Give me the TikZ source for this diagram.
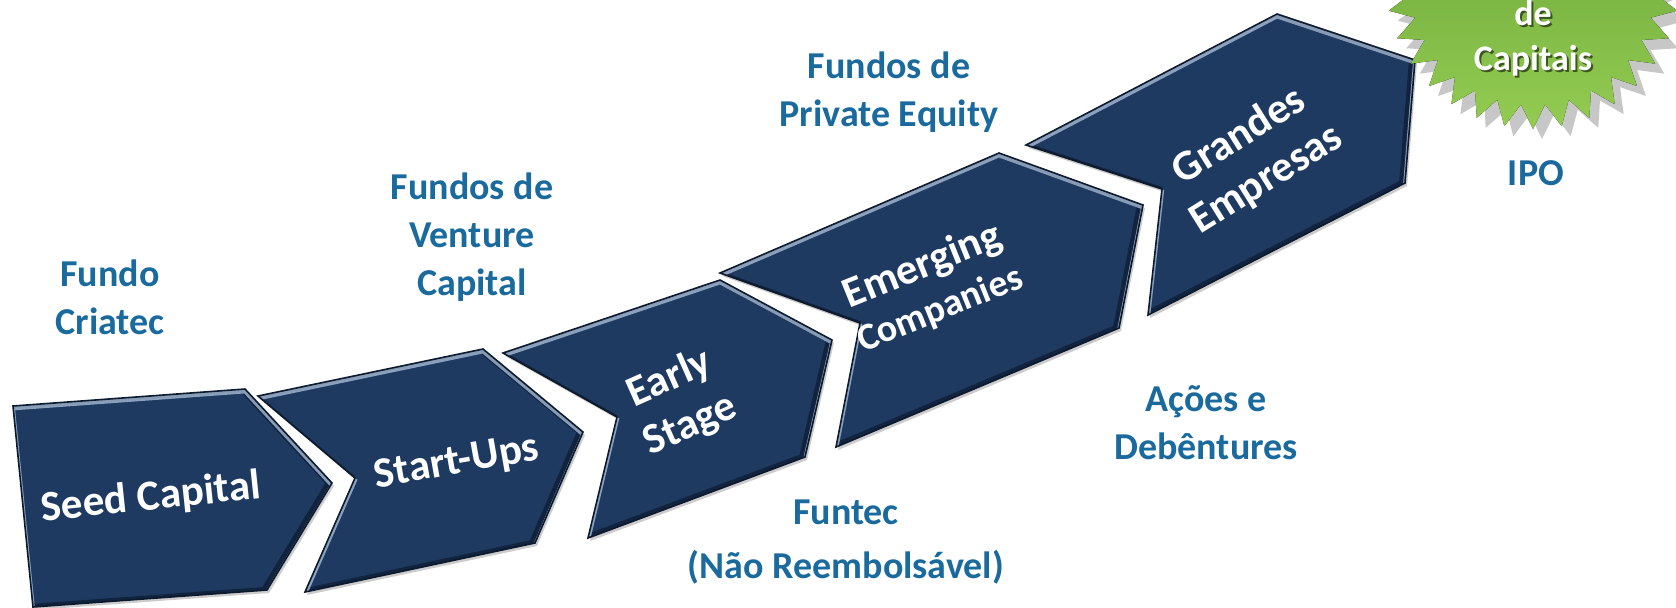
\documentclass[tikz,border=0pt]{standalone}
\usepackage{fontspec}
\setmainfont{Carlito}
\usepackage{xcolor}
\usepackage{tikz}
\usetikzlibrary{shadows}

\definecolor{stagenavy}{RGB}{31,58,96}
\definecolor{stageedge}{RGB}{12,26,46}
\definecolor{stagelight}{RGB}{176,196,222}
\definecolor{stagedark}{RGB}{14,30,54}
\definecolor{labelblue}{RGB}{26,106,158}
\definecolor{burstdark}{RGB}{96,156,50}
\definecolor{burstlight}{RGB}{148,204,82}

\tikzset{
	chevron/.style = {fill=stagenavy},
	chevron edge/.style = {draw=stageedge, line width=0.8pt},
	bevel light/.style = {draw=stagelight, line width=2pt, opacity=0.75},
	bevel dark/.style = {draw=stagedark, line width=3pt, opacity=0.8},
	stage text/.style = {text=white, align=center, font=\fontsize{21.5}{25.5}\selectfont\bfseries},
	fund label/.style = {text=labelblue, align=center, font=\fontsize{19}{24}\selectfont\bfseries},
	burst text/.style = {text=white, align=center, font=\fontsize{18}{22.5}\selectfont\bfseries},
}

\begin{document}
\begin{tikzpicture}[x=0.5pt, y=-0.5pt]
			\useasboundingbox (0,0) rectangle (1676,607);

			\def\seedShape{(13,406) -- (245,389) -- (332,483) -- (267,590) -- (33,607) -- cycle};
			\def\startShape{(258,396) -- (483,349) -- (583,432) -- (535,543) -- (305,592) -- (355,478) -- cycle};
			\def\earlyShape{(503,353) -- (720,280) -- (832,340) -- (805,457) -- (588,538) -- (617,417) -- cycle};
			\def\emergShape{(720,273) -- (999,153) -- (1143,205) -- (1119,328) -- (836,447) -- (860,323) -- cycle};
			\def\grandShape{(1026,145) -- (1277,14) -- (1415,60) -- (1405,183) -- (1148,315) -- (1162,189) -- cycle};

			\foreach \shp in {\seedShape, \startShape, \earlyShape, \emergShape, \grandShape} {
				\fill [black, opacity=0.2, transform canvas={shift={(1pt,-1.5pt)}}] \shp;
				\fill [chevron] \shp;
				\begin{scope}
					\clip \shp;
					\draw [bevel dark, transform canvas={xshift=-1.5pt}] \shp;
					\draw [bevel light, transform canvas={yshift=-1.2pt}] \shp;
				\end{scope}
				\draw [chevron edge] \shp;
			}

			\def\burstX{1533};
			\def\burstY{-18};
			\fill [black, opacity=0.22] plot [samples at={0,...,63}, variable=\k]
				({\burstX+9+(147-24*mod(\k,2))*cos(90+5.625*\k)}, {\burstY+10+(147-24*mod(\k,2))*sin(90+5.625*\k)}) -- cycle;
			\fill [top color=burstdark, bottom color=burstlight] plot [samples at={0,...,63}, variable=\k]
				({\burstX+(147-24*mod(\k,2))*cos(90+5.625*\k)}, {\burstY+(147-24*mod(\k,2))*sin(90+5.625*\k)}) -- cycle;
			\node [burst text, text=black, opacity=0.55] (burst shade) at (1535,40) {de\\Capitais};
			\node [burst text] (capitais) at (1533,38) {de\\Capitais};

			\node [stage text, rotate=6] (seed) at (151,498) {Seed Capital};
			\node [stage text, rotate=10] (startups) at (457,463) {Start-Ups};
			\node [stage text, rotate=24] (early) at (680,402) {Early\\Stage};
			\node [stage text, rotate=22, font=\fontsize{21.5}{23}\selectfont\bfseries] (emerging) at (931,287) {Emerging\\{\fontsize{19}{23}\selectfont Companies}};
			\node [stage text, rotate=32] (grandes) at (1253,158) {Grandes\\Empresas};

			\node [fund label] (criatec) at (110,297) {Fundo\\Criatec};
			\node [fund label] (venture) at (472,237) {Fundos de\\Venture\\Capital};
			\node [fund label] (private) at (889,92) {Fundos de\\Private Equity};
			\node [fund label] (ipo) at (1536,173) {IPO};
			\node [fund label] (acoes) at (1206,423) {Ações e\\Debêntures};
			\node [fund label, font=\fontsize{19}{27}\selectfont\bfseries] (funtec) at (846,542) {Funtec\\(Não Reembolsável)};
		\end{tikzpicture}
\end{document}
